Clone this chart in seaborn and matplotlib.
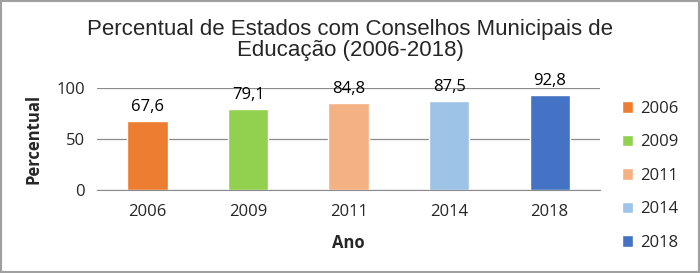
import seaborn as sns
import matplotlib.pyplot as plt
import pandas as pd
from matplotlib.patches import Rectangle

# Data: share of states with municipal education councils
anos = ["2006", "2009", "2011", "2014", "2018"]
percentual = [67.6, 79.1, 84.8, 87.5, 92.8]
cores = ["#ED7D31", "#92D050", "#F4B183", "#9DC3E6", "#4472C4"]

df = pd.DataFrame({"Ano": anos, "Percentual": percentual})

sns.set_style("white")
plt.rcParams["font.family"] = ["Liberation Sans", "DejaVu Sans"]

fig = plt.figure(figsize=(7, 2.73), dpi=100)
ax = fig.add_axes([0.139, 0.304, 0.718, 0.374])

sns.barplot(data=df, x="Ano", y="Percentual", hue="Ano", palette=cores,
            width=0.4, dodge=False, legend=True, ax=ax, saturation=1)

# value labels with comma decimals
for i, v in enumerate(percentual):
    ax.text(i, v + 6, f"{v:.1f}".replace(".", ","), ha="center", va="bottom",
            fontsize=12, family="Open Sans", color="#000000")

ax.set_ylim(0, 100)
ax.set_xlim(-0.5, 4.5)
ax.set_yticks([0, 50, 100])
ax.yaxis.grid(True, color="#8C8C8C", linewidth=0.9)
ax.set_axisbelow(True)
for s in ["top", "right", "left"]:
    ax.spines[s].set_visible(False)
ax.spines["bottom"].set_color("#8C8C8C")
ax.tick_params(axis="y", length=5, color="#8C8C8C", labelsize=12, pad=4)
ax.tick_params(axis="x", which="major", length=0, labelsize=12, pad=10)
ax.set_xticks([-0.5, 0.5, 1.5, 2.5, 3.5, 4.5], minor=True)
ax.tick_params(axis="x", which="minor", length=5, color="#8C8C8C")
for lab in ax.get_xticklabels() + ax.get_yticklabels():
    lab.set_family("Open Sans")

ax.set_xlabel("Ano", fontsize=12, fontweight="bold", family="Open Sans", labelpad=10)
ax.set_ylabel("Percentual", fontsize=12, fontweight="bold", family="Open Sans", labelpad=10)

fig.suptitle("Percentual de Estados com Conselhos Municipais de\nEducação (2006-2018)",
             fontsize=16, y=0.93, va="top", linespacing=1.0)

leg = ax.legend(loc="center left", bbox_to_anchor=(1.03, 0.14), frameon=False,
                fontsize=12, handlelength=0.7, handleheight=0.7, labelspacing=1.05,
                handletextpad=0.4, borderaxespad=0)
for t in leg.get_texts():
    t.set_family("Open Sans")

fig.patches.append(Rectangle((0.001, 0.002), 0.997, 0.995, transform=fig.transFigure,
                             fill=False, edgecolor="#A0A0A0", linewidth=1.5))

fig.savefig("out.png", dpi=100)
